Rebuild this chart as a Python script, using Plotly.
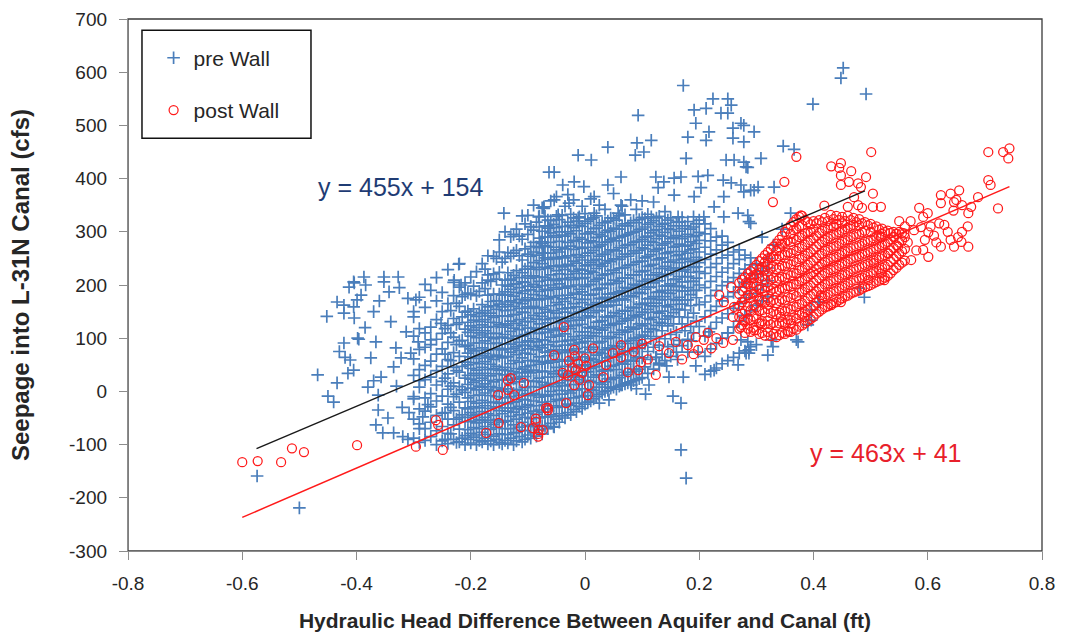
import plotly.graph_objects as go

# ---------------------------------------------------------------
# Seepage into the L-31N canal vs. head difference, before/after wall
# ---------------------------------------------------------------

BLUE = "#4a7ebb"
RED = "#ff1a1a"
FONT = "Liberation Sans, Arial, sans-serif"

x_tick_values = [-0.8, -0.6, -0.4, -0.2, 0.0, 0.2, 0.4, 0.6, 0.8]
x_tick_labels = ["-0.8", "-0.6", "-0.4", "-0.2", "0", "0.2", "0.4", "0.6", "0.8"]
y_tick_values = [-300, -200, -100, 0, 100, 200, 300, 400, 500, 600, 700]
y_tick_labels = ["-300", "-200", "-100", "0", "100", "200", "300", "400", "500", "600", "700"]

# pre-wall observations: scattered points (head diff ft, seepage cfs)
pre_wall_points = [
    (-0.574, -159), (-0.50, -219), (-0.468, 31), (-0.45, -9), (-0.452, 141), (-0.434, 168),
    (-0.422, 162), (-0.413, 196), (-0.404, 204), (-0.399, 172), (-0.422, 147), (-0.404, 138),
    (-0.422, 91), (-0.396, 98), (-0.42, 64), (-0.411, 59), (-0.415, 34), (-0.434, 16),
    (-0.405, 206), (-0.384, 200), (-0.392, 181), (-0.405, 159), (-0.352, 206), (-0.343, 187),
    (-0.31, 175), (-0.296, 172), (-0.398, 100), (-0.366, 93), (-0.375, 63), (-0.405, 40),
    (-0.38, 8), (-0.362, -7), (-0.362, -35), (-0.366, -63), (-0.354, -78), (-0.335, -78),
    (-0.319, -85), (-0.34, 131), (-0.313, 112), (-0.331, 82), (-0.357, 27), (-0.335, 46),
    (-0.308, -40), (-0.284, -48), (-0.275, -25), (-0.229, 209), (-0.217, 200), (-0.17, 209),
    (-0.13, 209), (-0.252, 128), (-0.27, 97), (-0.292, 93), (-0.305, 72), (-0.322, 63),
    (-0.44, -20), (-0.43, 75), (-0.385, 120), (-0.37, 150), (-0.36, 170), (-0.325, 195),
    (-0.30, 140), (-0.29, 20), (-0.30, -10), (-0.32, -30), (-0.29, -70), (-0.31, -90),
    (-0.345, -50), (-0.37, 20), (-0.33, 10), (-0.387, 215), (-0.352, 215), (-0.327, 215),
    (-0.142, 335), (-0.221, 239), (-0.072, 344), (-0.081, 328), (-0.095, 309), (-0.063, 307),
    (-0.077, 281), (-0.072, 260), (-0.063, 412),
    (0.172, 575), (0.224, 550), (0.25, 550), (0.256, 538), (0.212, 532), (0.191, 529),
    (0.238, 523), (0.25, 523), (0.093, 519), (0.194, 504), (0.273, 504), (0.259, 495),
    (0.296, 488), (0.217, 488), (0.18, 478), (0.212, 472), (0.259, 476), (0.278, 469),
    (0.116, 472), (0.091, 467), (0.04, 459), (0.103, 450), (0.088, 444), (-0.012, 444),
    (0.011, 435), (0.177, 438), (0.247, 435), (0.261, 435), (0.285, 421), (0.308, 438),
    (-0.054, 412), (0.063, 403), (0.124, 403), (0.156, 401), (0.168, 403), (0.198, 404),
    (0.215, 406), (0.138, 394), (0.242, 397), (0.256, 392), (0.273, 388), (0.296, 378),
    (-0.039, 388), (-0.019, 394), (-0.002, 385), (0.04, 388), (0.128, 383), (0.203, 383),
    (-0.054, 360), (-0.028, 354), (0.016, 366), (0.063, 350), (0.156, 369), (0.191, 366),
    (0.243, 366), (0.226, 347), (0.268, 335), (0.287, 319), (-0.072, 347), (-0.065, 322),
    (-0.047, 332), (-0.012, 326), (0.016, 335), (0.058, 335), (0.116, 328), (0.163, 328),
    (0.208, 328), (0.243, 328),
    (0.452, 608), (0.448, 589), (0.492, 559), (0.399, 540), (0.278, 500), (0.347, 461),
    (0.366, 455), (0.278, 431), (0.282, 422), (0.303, 384), (0.278, 375), (0.331, 384),
    (0.29, 378), (0.285, 331), (0.29, 316), (0.285, 93), (0.287, 78), (0.282, 72),
    (0.326, 97), (0.329, 84), (0.32, 68), (0.37, 97), (0.373, 93), (0.396, 153),
    (0.408, 168), (0.396, 134), (0.39, 125), (0.489, 177), (0.48, 194), (0.41, 168),
    (0.226, 40), (0.268, 50), (0.217, 112), (0.25, 110), (0.13, 53), (0.147, 27),
    (0.172, 27), (0.081, 12), (0.063, 12), (0.04, 8), (0.18, 74), (0.198, 74),
    (0.273, 97), (0.287, 72), (0.025, -22), (0.042, -16), (0.154, -9), (0.168, -22),
    (0.168, -110), (0.177, -163), (-0.054, -67), (0.31, 290), (0.33, 275), (0.345, 305),
    (0.36, 335), (0.32, 250), (0.112, 12), (0.124, 64), (0.143, 48), (0.162, 60),
    (0.186, 95), (0.194, 48), (0.106, -5), (0.09, 5),
]

# pre-wall observations in the main cloud, grouped by head difference
pre_wall_columns = [
    (-0.30, [-88, -52, -14, 30, 61, 104, 150]),
    (-0.29, [-96, -61, -33, 8, 41, 79, 118, 177]),
    (-0.28, [-92, -70, -37, -12, 22, 49, 83, 110, 158, 201]),
    (-0.27, [-85, -58, -29, -4, 27, 57, 88, 121, 190]),
    (-0.26, [-100, -74, -45, -18, 12, 39, 70, 98, 135, 170, 214]),
    (-0.25, [-93, -66, -41, -9, 19, 47, 80, 109, 150, 186]),
    (-0.245, [-90, -40, 25, 70, 118]),
    (-0.24, [-98, -79, -52, -24, 4, 33, 60, 92, 124, 165, 229]),
    (-0.235, [-80, -30, 10, 58, 110, 152]),
    (-0.23, [-90, -63, -36, -10, 16, 45, 73, 102, 137, 180, 205]),
    (-0.225, [-96, -52, -5, 39, 88, 126, 166]),
    (-0.22, [-95, -71, -49, -20, 9, 36, 66, 95, 129, 160, 196, 240]),
    (-0.215, [-88, -44, 3, 47, 96, 140, 178]),
    (-0.21, [-100, -83, -57, -31, -2, 25, 55, 84, 117, 149, 182, 204]),
    (-0.205, [-90, -72, -49, -33, -12, 13, 30, 50, 72, 87, 111, 130, 151, 185]),
    (-0.200, [-97, -79, -56, -40, -19, 6, 23, 43, 65, 80, 104, 123, 144, 183, 215]),
    (-0.195, [-86, -68, -45, -29, -8, 17, 34, 54, 76, 91, 115, 134, 155, 198]),
    (-0.190, [-100, -82, -59, -43, -22, 3, 20, 40, 62, 77, 101, 120, 141, 180, 225]),
    (-0.185, [-92, -70, -53, -31, -7, 10, 30, 52, 67, 91, 110, 131, 148, 188]),
    (-0.180, [-95, -77, -55, -38, -17, 8, 25, 45, 67, 82, 106, 125, 146, 163, 204, 240]),
    (-0.175, [-88, -66, -49, -27, -3, 14, 34, 56, 71, 95, 114, 135, 152, 193, 230]),
    (-0.170, [-99, -81, -58, -42, -21, 4, 21, 41, 63, 78, 102, 121, 142, 159, 181, 219, 255]),
    (-0.165, [-93, -71, -54, -32, -8, 9, 29, 51, 66, 90, 109, 130, 147, 169, 207]),
    (-0.160, [-100, -84, -62, -45, -20, 1, 18, 43, 60, 79, 99, 122, 139, 161, 183, 221, 254]),
    (-0.155, [-90, -68, -53, -29, -10, 7, 33, 47, 68, 91, 109, 129, 154, 170, 211, 250]),
    (-0.150, [-96, -80, -55, -36, -22, 1, 22, 40, 66, 81, 101, 125, 142, 164, 183, 224, 262, 285]),
    (-0.145, [-99, -81, -58, -42, -21, 4, 21, 41, 63, 78, 102, 121, 142, 159, 181, 200, 243]),
    (-0.140, [-92, -70, -55, -31, -12, 5, 31, 45, 66, 89, 107, 127, 152, 168, 187, 209, 250, 300]),
    (-0.135, [-97, -81, -56, -37, -23, 0, 21, 39, 65, 80, 100, 124, 141, 163, 182, 198, 223, 261]),
    (-0.130, [-88, -70, -47, -31, -10, 15, 32, 52, 74, 89, 113, 132, 153, 170, 192, 211, 254, 291]),
    (-0.125, [-100, -78, -63, -39, -20, -3, 23, 37, 58, 81, 99, 119, 144, 160, 179, 201, 218, 260, 295]),
    (-0.120, [-93, -77, -52, -33, -19, 4, 25, 43, 69, 84, 104, 128, 145, 167, 186, 202, 227, 265, 305]),
    (-0.115, [-85, -67, -44, -28, -7, 18, 35, 55, 77, 92, 116, 135, 156, 173, 195, 214, 255, 292]),
    (-0.110, [-95, -73, -58, -34, -15, 2, 28, 42, 63, 86, 104, 124, 149, 165, 184, 206, 223, 247, 286, 330]),
    (-0.105, [-90, -74, -49, -30, -16, 7, 28, 46, 72, 87, 107, 131, 148, 170, 189, 205, 230, 268, 315]),
    (-0.100, [-82, -64, -41, -25, -4, 21, 38, 58, 80, 95, 119, 138, 159, 176, 198, 217, 235, 258, 295, 331]),
    (-0.095, [-88, -66, -51, -27, -8, 9, 35, 49, 70, 93, 111, 131, 156, 172, 191, 213, 230, 254, 272, 310]),
    (-0.090, [-78, -62, -37, -18, -4, 19, 40, 58, 84, 99, 119, 143, 160, 182, 201, 217, 242, 262, 280, 303, 350]),
    (-0.085, [-84, -66, -43, -27, -6, 19, 36, 56, 78, 93, 117, 136, 157, 174, 196, 215, 233, 256, 272, 318]),
    (-0.080, [-72, -50, -35, -11, 8, 25, 51, 65, 86, 109, 127, 147, 172, 188, 207, 229, 246, 270, 288, 309, 329]),
    (-0.075, [-80, -64, -39, -20, -6, 17, 38, 56, 82, 97, 117, 141, 158, 180, 199, 215, 240, 260, 278, 301, 345]),
    (-0.070, [-66, -48, -25, -9, 12, 37, 54, 74, 96, 111, 135, 154, 175, 192, 214, 233, 251, 274, 290, 311, 329]),
    (-0.065, [-70, -48, -33, -9, 10, 27, 53, 67, 88, 111, 129, 149, 174, 190, 209, 231, 248, 272, 290, 311]),
    (-0.060, [-60, -44, -19, 0, 14, 37, 58, 76, 102, 117, 137, 161, 178, 200, 219, 235, 260, 280, 298, 321, 358]),
    (-0.055, [-66, -47, -27, -6, 15, 33, 55, 78, 93, 114, 138, 152, 177, 195, 211, 236, 252, 271, 293, 314]),
    (-0.050, [-52, -30, -15, 9, 28, 45, 71, 85, 106, 129, 147, 167, 192, 208, 227, 249, 266, 290, 308, 329, 366]),
    (-0.045, [-58, -42, -17, 2, 16, 39, 60, 78, 104, 119, 139, 163, 180, 202, 221, 237, 262, 282, 300, 323]),
    (-0.040, [-46, -28, -5, 11, 32, 57, 74, 94, 116, 131, 155, 174, 195, 212, 234, 253, 271, 294, 310, 331]),
    (-0.035, [-50, -28, -13, 11, 30, 47, 73, 87, 108, 131, 149, 169, 194, 210, 229, 251, 268, 292, 310, 348]),
    (-0.030, [-40, -24, 1, 20, 34, 57, 78, 96, 122, 137, 157, 181, 198, 220, 239, 255, 280, 300, 318, 370]),
    (-0.025, [-44, -26, -3, 13, 34, 59, 76, 96, 118, 133, 157, 176, 197, 214, 236, 255, 273, 296, 312, 333]),
    (-0.020, [-34, -12, 3, 27, 46, 63, 89, 103, 124, 147, 165, 185, 210, 226, 245, 267, 284, 308, 326, 360]),
    (-0.015, [-38, -22, 3, 22, 36, 59, 80, 98, 124, 139, 159, 183, 200, 222, 241, 257, 282, 302, 320]),
    (-0.010, [-28, -10, 13, 29, 50, 75, 92, 112, 134, 149, 173, 192, 213, 230, 252, 271, 289, 312, 328]),
    (-0.005, [-32, -10, 5, 29, 48, 65, 91, 105, 126, 149, 167, 187, 212, 228, 247, 269, 286, 310, 348]),
    (0.000, [-24, -8, 17, 36, 50, 73, 94, 112, 138, 153, 173, 197, 214, 236, 255, 271, 296, 316, 334]),
    (0.005, [-20, -2, 21, 37, 58, 83, 100, 120, 142, 157, 181, 200, 221, 238, 260, 279, 297, 320]),
    (0.010, [-18, 4, 19, 43, 62, 79, 105, 119, 140, 163, 181, 201, 226, 242, 261, 283, 300, 324, 362]),
    (0.015, [-14, 2, 27, 46, 60, 83, 104, 122, 148, 163, 183, 207, 224, 246, 265, 281, 306, 326]),
    (0.020, [-10, 8, 31, 47, 68, 93, 110, 130, 152, 167, 191, 210, 231, 248, 270, 289, 307, 330]),
    (0.025, [-6, 16, 31, 55, 74, 91, 117, 131, 152, 175, 193, 213, 238, 254, 273, 295, 312, 350]),
    (0.030, [-3, 13, 38, 57, 71, 94, 115, 133, 159, 174, 194, 218, 235, 257, 276, 292, 317]),
    (0.035, [0, 18, 41, 57, 78, 103, 120, 140, 162, 177, 201, 220, 241, 258, 280, 299, 317, 342]),
    (0.040, [2, 24, 39, 63, 82, 99, 125, 139, 160, 183, 201, 221, 246, 262, 281, 303, 320]),
    (0.045, [6, 22, 47, 66, 80, 103, 124, 142, 168, 183, 203, 227, 244, 266, 285, 301, 326]),
    (0.050, [8, 26, 49, 65, 86, 111, 128, 148, 170, 185, 209, 228, 249, 266, 288, 307, 325, 372]),
    (0.055, [4, 26, 41, 65, 84, 101, 127, 141, 162, 185, 203, 223, 248, 264, 283, 305, 322]),
    (0.060, [10, 26, 51, 70, 84, 107, 128, 146, 172, 187, 207, 231, 248, 270, 289, 305, 330]),
    (0.065, [12, 30, 53, 69, 90, 115, 132, 152, 174, 189, 213, 232, 253, 270, 292, 311, 348]),
    (0.070, [14, 36, 51, 75, 94, 111, 137, 151, 172, 195, 213, 233, 258, 274, 293, 315, 332]),
    (0.075, [16, 32, 57, 76, 90, 113, 134, 152, 178, 193, 213, 237, 254, 276, 295, 311]),
    (0.080, [18, 36, 59, 75, 96, 121, 138, 158, 180, 195, 219, 238, 259, 276, 298, 317, 360]),
    (0.085, [20, 42, 57, 81, 100, 117, 143, 157, 178, 201, 219, 239, 264, 280, 299, 321]),
    (0.090, [22, 38, 63, 82, 96, 119, 140, 158, 184, 199, 219, 243, 260, 282, 301, 317, 342]),
    (0.095, [24, 42, 65, 81, 102, 127, 144, 164, 186, 201, 225, 244, 265, 282, 304, 323]),
    (0.100, [26, 63, 87, 106, 123, 149, 163, 184, 207, 225, 245, 270, 286, 305, 327, 358]),
    (0.105, [46, 90, 104, 127, 148, 166, 192, 207, 227, 251, 268, 290, 309, 325]),
    (0.110, [34, 75, 112, 137, 154, 174, 196, 211, 235, 254, 275, 292, 314, 333]),
    (0.115, [60, 99, 118, 135, 161, 175, 196, 219, 237, 257, 282, 298, 317]),
    (0.120, [42, 83, 116, 139, 160, 178, 204, 219, 239, 263, 280, 302, 321, 356]),
    (0.125, [64, 103, 124, 149, 166, 186, 208, 223, 247, 266, 287, 304, 326]),
    (0.130, [50, 87, 130, 147, 173, 187, 208, 231, 249, 269, 294, 310, 329]),
    (0.135, [70, 114, 128, 151, 172, 190, 216, 231, 251, 275, 292, 314]),
    (0.140, [58, 99, 136, 161, 178, 198, 220, 235, 259, 278, 299, 316, 338]),
    (0.145, [84, 123, 142, 159, 185, 199, 220, 243, 261, 281, 306, 322]),
    (0.150, [66, 107, 140, 163, 184, 202, 228, 243, 263, 287, 304, 326]),
    (0.155, [88, 127, 148, 173, 190, 210, 232, 247, 271, 290, 311]),
    (0.160, [74, 111, 154, 171, 197, 211, 232, 255, 273, 293, 318]),
    (0.165, [96, 140, 154, 177, 198, 216, 242, 257, 277, 301, 318]),
    (0.170, [86, 127, 164, 189, 206, 226, 248, 263, 287, 306, 327]),
    (0.175, [114, 153, 172, 189, 215, 229, 250, 273, 291, 311]),
    (0.180, [98, 139, 172, 195, 216, 234, 260, 275, 295, 319]),
    (0.185, [122, 161, 182, 207, 224, 244, 266, 281, 305]),
    (0.190, [110, 147, 190, 207, 233, 247, 268, 291, 309, 328]),
    (0.195, [132, 176, 190, 213, 234, 252, 278, 293, 315]),
    (0.200, [122, 163, 200, 225, 242, 262, 284, 299, 322]),
    (0.21, [32, 66, 104, 140, 168, 195, 222, 248, 271, 296, 315]),
    (0.22, [38, 80, 118, 152, 180, 207, 233, 258, 283, 306]),
    (0.23, [44, 90, 130, 160, 190, 216, 240, 266, 290]),
    (0.24, [52, 100, 138, 170, 199, 224, 251, 275, 292]),
    (0.25, [58, 110, 146, 178, 206, 232, 256, 280]),
    (0.26, [64, 121, 156, 186, 214, 240, 262]),
    (0.27, [72, 132, 165, 196, 222, 248, 266]),
    (0.28, [76, 143, 176, 205, 230, 256]),
    (0.29, [84, 152, 184, 212, 238, 251]),
    (0.30, [88, 162, 192, 220, 240]),
    (0.31, [170, 200, 226]),
    (0.32, [178, 208, 232]),
]

# post-wall observations: scattered points
post_wall_points = [
    (-0.60, -133), (-0.573, -131), (-0.532, -133), (-0.513, -107), (-0.492, -114), (-0.399, -101),
    (-0.296, -104), (-0.249, -110), (-0.261, -54), (-0.257, -63), (-0.173, -78), (-0.151, -59),
    (-0.112, -67), (-0.091, -69), (-0.082, -85), (-0.081, -73), (-0.086, -51), (-0.065, -31),
    (-0.135, 21), (-0.13, 25), (-0.107, 16), (-0.152, -7), (-0.135, 3), (-0.124, -7),
    (-0.065, -35), (-0.086, -57), (-0.082, -80), (-0.033, -22), (0.005, -7), (-0.039, 35),
    (-0.019, 12), (-0.054, 68), (-0.019, 78), (-0.037, 121), (-0.016, 40), (0.007, 12),
    (-0.068, -31), (-0.074, -73), (0.032, 27), (0.037, 50), (0.049, 72), (0.063, 87),
    (0.063, 64), (0.075, 36), (0.093, 40), (0.098, 55), (0.124, 31), (0.147, 72),
    (0.159, 93), (0.18, 87), (0.194, 102), (0.198, 78), (0.208, 97), (0.221, 81),
    (0.242, 91), (0.259, 97), (0.014, 81), (-0.028, 58), (-0.022, 45), (-0.012, 52),
    (-0.005, 35), (0.0, 62), (-0.03, 30), (-0.01, 22), (0.002, 48), (-0.018, 66),
    (0.11, 60), (0.13, 85), (0.17, 60), (0.19, 70), (0.215, 110), (0.23, 100),
    (0.10, 90), (0.085, 75), (0.235, 181), (0.243, 168), (0.256, 196), (0.261, 159),
    (0.259, 140), (0.282, 204), (0.296, 213), (0.273, 121),
    (0.501, 450), (0.37, 441), (0.349, 394), (0.329, 356), (0.431, 423), (0.448, 429),
    (0.445, 420), (0.466, 414), (0.448, 406), (0.492, 403), (0.448, 388), (0.462, 394),
    (0.478, 391), (0.483, 384), (0.504, 372), (0.471, 365), (0.46, 347), (0.478, 350),
    (0.485, 345), (0.504, 347), (0.518, 347), (0.419, 349), (0.378, 331), (0.343, 278),
    (0.706, 450), (0.732, 450), (0.743, 457), (0.741, 438), (0.706, 397), (0.71, 388),
    (0.723, 344), (0.688, 365), (0.676, 347), (0.646, 356), (0.623, 369), (0.655, 378),
    (0.64, 372), (0.65, 360), (0.66, 350), (0.645, 340), (0.623, 354), (0.671, 335),
    (0.62, 316), (0.629, 313), (0.592, 328), (0.588, 309), (0.576, 303), (0.559, 297),
    (0.601, 299), (0.611, 293), (0.653, 290), (0.659, 281), (0.671, 272), (0.623, 272),
    (0.646, 272), (0.592, 266), (0.601, 253), (0.571, 247), (0.541, 290), (0.548, 272),
    (0.518, 290), (0.531, 259), (0.506, 241), (0.518, 222), (0.524, 209), (0.496, 209),
    (0.431, 162), (0.448, 168), (0.413, 181), (0.356, 112), (0.361, 128), (0.308, 128),
    (0.296, 115), (0.278, 134), (0.343, 140), (0.384, 140),
    (0.565, 280), (0.58, 265), (0.595, 285), (0.605, 310), (0.615, 280), (0.635, 300),
    (0.64, 285), (0.60, 335), (0.57, 320), (0.585, 345), (0.66, 300), (0.67, 310), (0.55, 320),
]

# post-wall observations in the dense cluster, grouped by head difference
post_wall_columns = [
    (0.270, [118, 140, 161, 183, 204]),
    (0.275, [125, 146, 168, 189, 210]),
    (0.280, [110, 131, 151, 174, 195, 215]),
    (0.285, [118, 137, 160, 181, 202, 222]),
    (0.290, [112, 134, 153, 176, 197, 214, 226]),
    (0.295, [120, 141, 162, 184, 204, 218, 232]),
    (0.300, [115, 137, 158, 179, 198, 220, 238]),
    (0.305, [108, 128, 151, 170, 192, 213, 230, 245]),
    (0.310, [110, 132, 153, 172, 194, 216, 234, 250]),
    (0.315, [105, 126, 148, 167, 189, 210, 229, 243, 256]),
    (0.320, [112, 133, 155, 175, 196, 218, 238, 250, 262]),
    (0.325, [104, 126, 147, 168, 190, 210, 231, 251, 268]),
    (0.330, [108, 129, 150, 172, 193, 213, 235, 254, 272]),
    (0.335, [102, 124, 145, 166, 188, 208, 230, 249, 264, 278]),
    (0.340, [106, 128, 148, 170, 191, 212, 232, 254, 271, 285]),
    (0.345, [110, 130, 152, 173, 194, 215, 236, 256, 276, 292]),
    (0.350, [108, 129, 151, 171, 193, 214, 235, 257, 279, 300]),
    (0.355, [114, 135, 156, 177, 198, 220, 240, 261, 284, 306]),
    (0.360, [112, 134, 154, 176, 197, 218, 239, 260, 281, 296, 312]),
    (0.365, [118, 139, 160, 182, 202, 223, 245, 266, 287, 303, 318]),
    (0.370, [116, 137, 159, 179, 201, 222, 243, 264, 285, 306, 324]),
    (0.375, [122, 144, 164, 186, 207, 228, 249, 270, 290, 310, 328]),
    (0.380, [124, 146, 166, 188, 209, 230, 251, 272, 293, 312, 330]),
    (0.385, [128, 149, 170, 192, 212, 233, 255, 276, 297, 322]),
    (0.390, [132, 153, 175, 196, 216, 238, 259, 280, 299, 318]),
    (0.395, [136, 157, 179, 199, 221, 242, 262, 284, 300, 314]),
    (0.400, [140, 161, 183, 204, 224, 246, 267, 288, 305, 320]),
    (0.405, [146, 167, 188, 209, 230, 251, 272, 293, 316]),
    (0.410, [150, 171, 193, 213, 234, 256, 277, 298, 322]),
    (0.415, [154, 176, 196, 218, 239, 259, 281, 302, 318]),
    (0.420, [158, 179, 201, 222, 243, 264, 285, 306, 326]),
    (0.425, [160, 182, 203, 224, 245, 266, 288, 308, 320]),
    (0.430, [164, 185, 207, 228, 249, 270, 291, 312, 332]),
    (0.435, [166, 188, 209, 230, 251, 272, 294, 310, 324]),
    (0.440, [168, 190, 211, 232, 253, 274, 296, 315, 330]),
    (0.445, [172, 193, 214, 236, 257, 278, 299, 322]),
    (0.450, [175, 196, 218, 239, 260, 281, 302, 316, 328]),
    (0.455, [178, 199, 220, 241, 263, 284, 305, 320]),
    (0.460, [180, 202, 223, 244, 265, 286, 308, 330]),
    (0.465, [184, 205, 226, 248, 269, 290, 311, 322]),
    (0.470, [186, 208, 229, 250, 271, 292, 313, 326]),
    (0.475, [188, 209, 231, 252, 273, 295, 318]),
    (0.480, [190, 212, 233, 254, 275, 296, 312, 324]),
    (0.485, [193, 214, 235, 257, 278, 299, 316]),
    (0.490, [196, 217, 238, 259, 281, 302, 318]),
    (0.495, [198, 219, 240, 262, 283, 312]),
    (0.500, [200, 222, 243, 264, 285, 300, 315]),
    (0.505, [203, 224, 246, 267, 288, 308]),
    (0.510, [206, 227, 248, 269, 291, 310]),
    (0.515, [208, 230, 251, 272, 293, 304]),
    (0.520, [211, 232, 254, 275, 296, 306]),
    (0.525, [214, 235, 256, 278, 300]),
    (0.530, [217, 238, 260, 281, 302]),
    (0.535, [222, 244, 265, 286, 298]),
    (0.540, [228, 249, 270, 291, 300]),
    (0.545, [232, 254, 275, 296]),
    (0.550, [238, 259, 280, 300]),
    (0.555, [242, 263, 284, 298]),
    (0.560, [246, 268, 290, 310]),
]

# linear fits: (slope, intercept, x start, x end)
pre_fit = (455, 154, -0.575, 0.49)
post_fit = (463, 41, -0.60, 0.743)


def expand(points, columns):
    xs = [p[0] for p in points]
    ys = [p[1] for p in points]
    for x, col in columns:
        xs.extend([x] * len(col))
        ys.extend(col)
    return xs, ys


pre_x, pre_y = expand(pre_wall_points, pre_wall_columns)
post_x, post_y = expand(post_wall_points, post_wall_columns)

fig = go.Figure()

fig.add_trace(go.Scatter(
    x=pre_x, y=pre_y, mode="markers", name="pre Wall", legendgroup="pre",
    marker=dict(symbol="cross-thin", size=9, color=BLUE, line=dict(color=BLUE, width=1.7)),
))
fig.add_trace(go.Scatter(
    x=post_x, y=post_y, mode="markers", name="post Wall", legendgroup="post",
    marker=dict(symbol="circle-open", size=9, color=RED, line=dict(width=1.25)),
))

for (slope, icpt, x0, x1), colour in ((pre_fit, "#1a1a1a"), (post_fit, RED)):
    fig.add_trace(go.Scatter(
        x=[x0, x1], y=[slope * x0 + icpt, slope * x1 + icpt], mode="lines",
        line=dict(color=colour, width=1.5), showlegend=False, hoverinfo="skip",
    ))

fig.add_annotation(x=-0.322, y=384, text="y = 455x + 154", showarrow=False,
                   font=dict(family=FONT, size=25, color="#1f3c74"))
fig.add_annotation(x=0.527, y=-116, text="y = 463x + 41", showarrow=False,
                   font=dict(family=FONT, size=25, color="#e8202a"))

# plot-area frame and legend box
fig.add_shape(type="rect", xref="paper", yref="paper", x0=0, x1=1, y0=0, y1=1,
              line=dict(color="#3a3a3a", width=1.3), layer="below")
fig.add_shape(type="rect", xref="paper", yref="paper", x0=0.0153, x1=0.2002, y0=0.776, y1=0.979,
              line=dict(color="#111111", width=1.5), fillcolor="white", layer="below")

axis_common = dict(
    showline=True, linecolor="#8c8c8c", linewidth=1.3, ticks="outside", ticklen=8,
    tickcolor="#8c8c8c", tickwidth=1.2, showgrid=False, zeroline=False,
    automargin=False,
    tickfont=dict(family=FONT, size=19, color="#262626"),
)

fig.update_layout(
    width=1066, height=637,
    margin=dict(l=128, r=24, t=19, b=86),
    paper_bgcolor="white", plot_bgcolor="white",
    showlegend=True,
    legend=dict(
        x=0.028, y=0.965, xanchor="left", yanchor="top",
        bgcolor="rgba(0,0,0,0)", borderwidth=0,
        traceorder="grouped", tracegroupgap=22,
        font=dict(family=FONT, size=21, color="#262626"),
    ),
    xaxis=dict(
        range=[-0.8, 0.8], tickvals=x_tick_values, ticktext=x_tick_labels,
        ticklabelstandoff=7,
        title=dict(text="<b>Hydraulic Head Difference Between Aquifer and Canal (ft)</b>",
                   font=dict(family=FONT, size=21, color="#262626"), standoff=20),
        **axis_common,
    ),
    yaxis=dict(
        range=[-300, 700], tickvals=y_tick_values, ticktext=y_tick_labels,
        ticklabelstandoff=8,
        title=dict(text="<b>Seepage into L-31N Canal (cfs)</b>",
                   font=dict(family=FONT, size=24, color="#262626"), standoff=32),
        **axis_common,
    ),
)

fig.write_html("out.html")
